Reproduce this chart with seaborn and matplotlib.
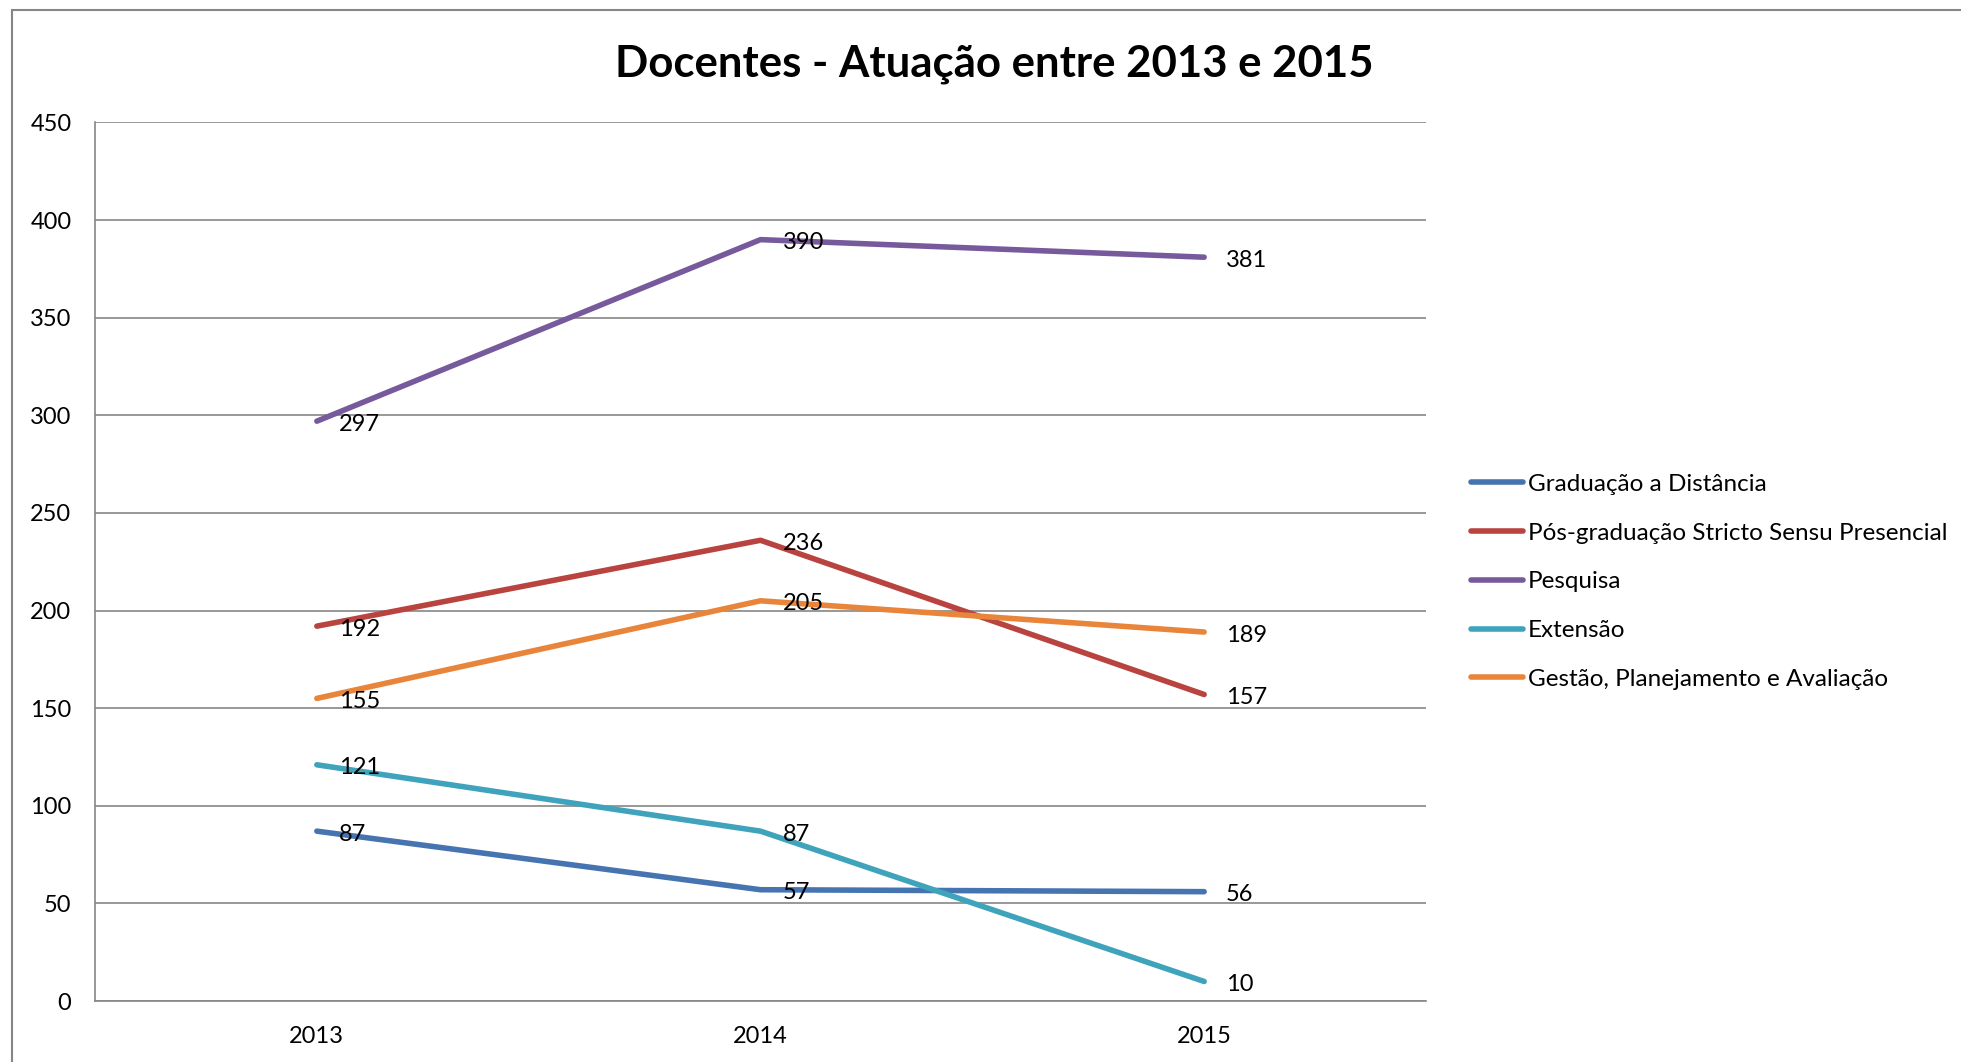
import numpy as np
import pandas as pd
import matplotlib
matplotlib.use("Agg")
import matplotlib.pyplot as plt
import seaborn as sns
from matplotlib.patches import Rectangle

# dados
anos = [2013, 2014, 2015]
series = [
    "Graduação a Distância",
    "Pós-graduação Stricto Sensu Presencial",
    "Pesquisa",
    "Extensão",
    "Gestão, Planejamento e Avaliação",
]
grad_distancia = [87, 57, 56]
pos_graduacao = [192, 236, 157]
pesquisa = [297, 390, 381]
extensao = [121, 87, 10]
gestao = [155, 205, 189]
cores = ["#4674B0", "#B8433F", "#775A9C", "#3FA3BC", "#E8853A"]

valores = [grad_distancia, pos_graduacao, pesquisa, extensao, gestao]
df = pd.DataFrame({
    "ano": anos * len(series),
    "serie": [s for s in series for _ in anos],
    "valor": [v for vals in valores for v in vals],
})

sns.set_style("white")
plt.rcParams["font.family"] = ["Lato", "DejaVu Sans"]
plt.rcParams["text.color"] = "black"

W, H = 1961, 1062
fig = plt.figure(figsize=(W / 100, H / 100), dpi=100)
ax = fig.add_axes([95 / W, 1 - 1001 / H, (1426 - 95) / W, (1001 - 122.5) / H])

sns.lineplot(data=df, x="ano", y="valor", hue="serie", hue_order=series,
             palette=cores, linewidth=4, ax=ax, legend=True)

# rótulos de dados
for nome, vals in zip(series, valores):
    for a, v in zip(anos, vals):
        ax.annotate(str(v), (a, v), xytext=(22, -3), textcoords="offset pixels",
                    ha="left", va="center", fontsize=17, color="black")

ax.set_xlim(2012.5, 2015.5)
ax.set_ylim(0, 450)
ax.set_xticks(anos)
ax.set_xticklabels([str(a) for a in anos])
ax.set_yticks(range(0, 451, 50))
ax.tick_params(axis="both", length=0, labelsize=17, colors="black")
ax.tick_params(axis="y", pad=17)
ax.tick_params(axis="x", pad=18)
ax.yaxis.grid(True, color="#868686", linewidth=1.2)
ax.set_xlabel("")
ax.set_ylabel("")
for lado in ["top", "right"]:
    ax.spines[lado].set_visible(False)
for lado in ["left", "bottom"]:
    ax.spines[lado].set_color("#868686")
    ax.spines[lado].set_linewidth(1.2)

fig.text(994 / W, 1 - 64.5 / H, "Docentes - Atuação entre 2013 e 2015",
         ha="center", va="center", fontsize=31.5, fontweight="bold",
         color="black")

handles, labels = ax.get_legend_handles_labels()
leg = fig.legend(handles, labels, loc="upper left",
                 bbox_to_anchor=(1449 / W, 1 - 452 / H), frameon=False,
                 fontsize=17.5, handlelength=2.15, handletextpad=0.2,
                 labelspacing=1.14)
for ln in leg.get_lines():
    ln.set_linewidth(4)
if ax.get_legend():
    ax.get_legend().remove()

# borda externa do gráfico
fig.patches.append(Rectangle((12 / W, -0.1), 1.2, 1 - 10 / H + 0.1,
                             transform=fig.transFigure, fill=False,
                             edgecolor="#868686", linewidth=1.5))

fig.savefig("out.png", dpi=100)
